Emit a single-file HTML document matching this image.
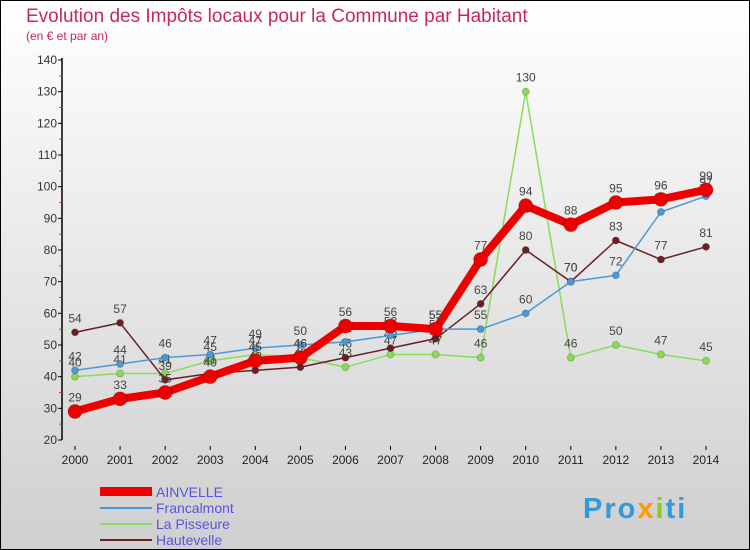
<!DOCTYPE html>
<html><head><meta charset="utf-8"><style>
body{margin:0;width:750px;height:550px;overflow:hidden;font-family:"Liberation Sans",sans-serif}
#wrap{position:absolute;left:0;top:0;width:748px;height:548px;border:1px solid #000;background:linear-gradient(#ffffff,#cfcfcf)}
</style></head><body>
<div id="wrap">
<svg id="chart" width="750" height="550" style="position:absolute;left:-1px;top:-1px">
<text x="26" y="22" font-size="19" fill="#c8285a">Evolution des Impôts locaux pour la Commune par Habitant</text>
<text x="26" y="40" font-size="12" fill="#c8285a">(en € et par an)</text>
<g id="axes"></g><g id="series"></g>
<g font-size="14">
<rect x="100" y="487" width="52" height="9" fill="#e00"/>
<text x="156" y="497" fill="#5555dd">AINVELLE</text>
<line x1="100" y1="508" x2="152" y2="508" stroke="#4499dd" stroke-width="2"/>
<text x="156" y="513" fill="#5555dd">Francalmont</text>
<line x1="100" y1="524" x2="152" y2="524" stroke="#88dd66" stroke-width="2"/>
<text x="156" y="529" fill="#5555dd">La Pisseure</text>
<line x1="100" y1="540" x2="152" y2="540" stroke="#6b1f24" stroke-width="2"/>
<text x="156" y="545" fill="#5555dd">Hautevelle</text>
</g>
<text x="583" y="518" font-size="29" font-weight="bold" letter-spacing="2" fill="#3399dd">Pro<tspan fill="#ff9900">x</tspan><tspan fill="#88cc22">i</tspan>ti</text>
</svg>
</div>
<script>
const years=["2000","2001","2002","2003","2004","2005","2006","2007","2008","2009","2010","2011","2012","2013","2014"];
const ainvelle=[29,33,35,40,45,46,56,56,55,77,94,88,95,96,99];
const francalmont=[42,44,46,47,49,50,51,53,55,55,60,70,72,92,97];
const laPisseure=[40,41,41,45,47,46,43,47,47,46,130,46,50,47,45];
const hautevelle=[54,57,39,41,42,43,46,49,52,63,80,70,83,77,81];
const yTicks=[20,30,40,50,60,70,80,90,100,110,120,130,140];
const NS="http://www.w3.org/2000/svg";
function X(i){return 75+i*(706-75)/(years.length-1);}
function Y(v){return 440-(v-20)*(380/120);}
function mk(t,a,p){const e=document.createElementNS(NS,t);for(const k in a)e.setAttribute(k,a[k]);p.appendChild(e);return e;}
const ax=document.getElementById('axes');
const yAxis=mk('line',{x1:62,y1:58,x2:62,y2:440,stroke:'#000','stroke-width':1.5},ax);


yTicks.forEach(v=>{
 mk('line',{x1:58,y1:Y(v),x2:62,y2:Y(v),stroke:'#000'},ax);
 if(v<140)mk('line',{x1:59,y1:Y(v+5),x2:62,y2:Y(v+5),stroke:'#e33'},ax);
 const t=mk('text',{x:57,y:Y(v)+4,'text-anchor':'end','font-size':12,fill:'#333'},ax);
 t.textContent=v;
 
 
});
years.forEach((y,i)=>{
 mk('line',{x1:X(i),y1:446,x2:X(i),y2:450,stroke:'#000'},ax);
 const t=mk('text',{x:X(i),y:464,'text-anchor':'middle','font-size':12,fill:'#222'},ax);
 t.textContent=y;
 
 
});
const sg=document.getElementById('series');
function draw(data,name,color,w,r){
 const g=mk('g',{},sg);
 
 
 const pl=mk('polyline',{points:data.map((v,i)=>X(i)+','+Y(v)).join(' '),fill:'none',stroke:color,'stroke-width':w,'stroke-linejoin':'round'},g);
 
 
 data.forEach((v,i)=>{
  const c=mk('circle',{cx:X(i),cy:Y(v),r:r,fill:color,stroke:'rgba(0,0,0,0.2)'},g);
  
  
  const t=mk('text',{x:X(i),y:Y(v)-10,'text-anchor':'middle','font-size':12,fill:'#444'},g);
  t.textContent=v;
  
  
 });
}
draw(laPisseure,'la-pisseure','#88dd55',1.5,3.5);
draw(hautevelle,'hautevelle','#6b1f24',1.5,3.5);
draw(francalmont,'francalmont','#4a9ad8',1.5,3.5);
draw(ainvelle,'ainvelle','#ee0000',8,7);
</script>
</body></html>
